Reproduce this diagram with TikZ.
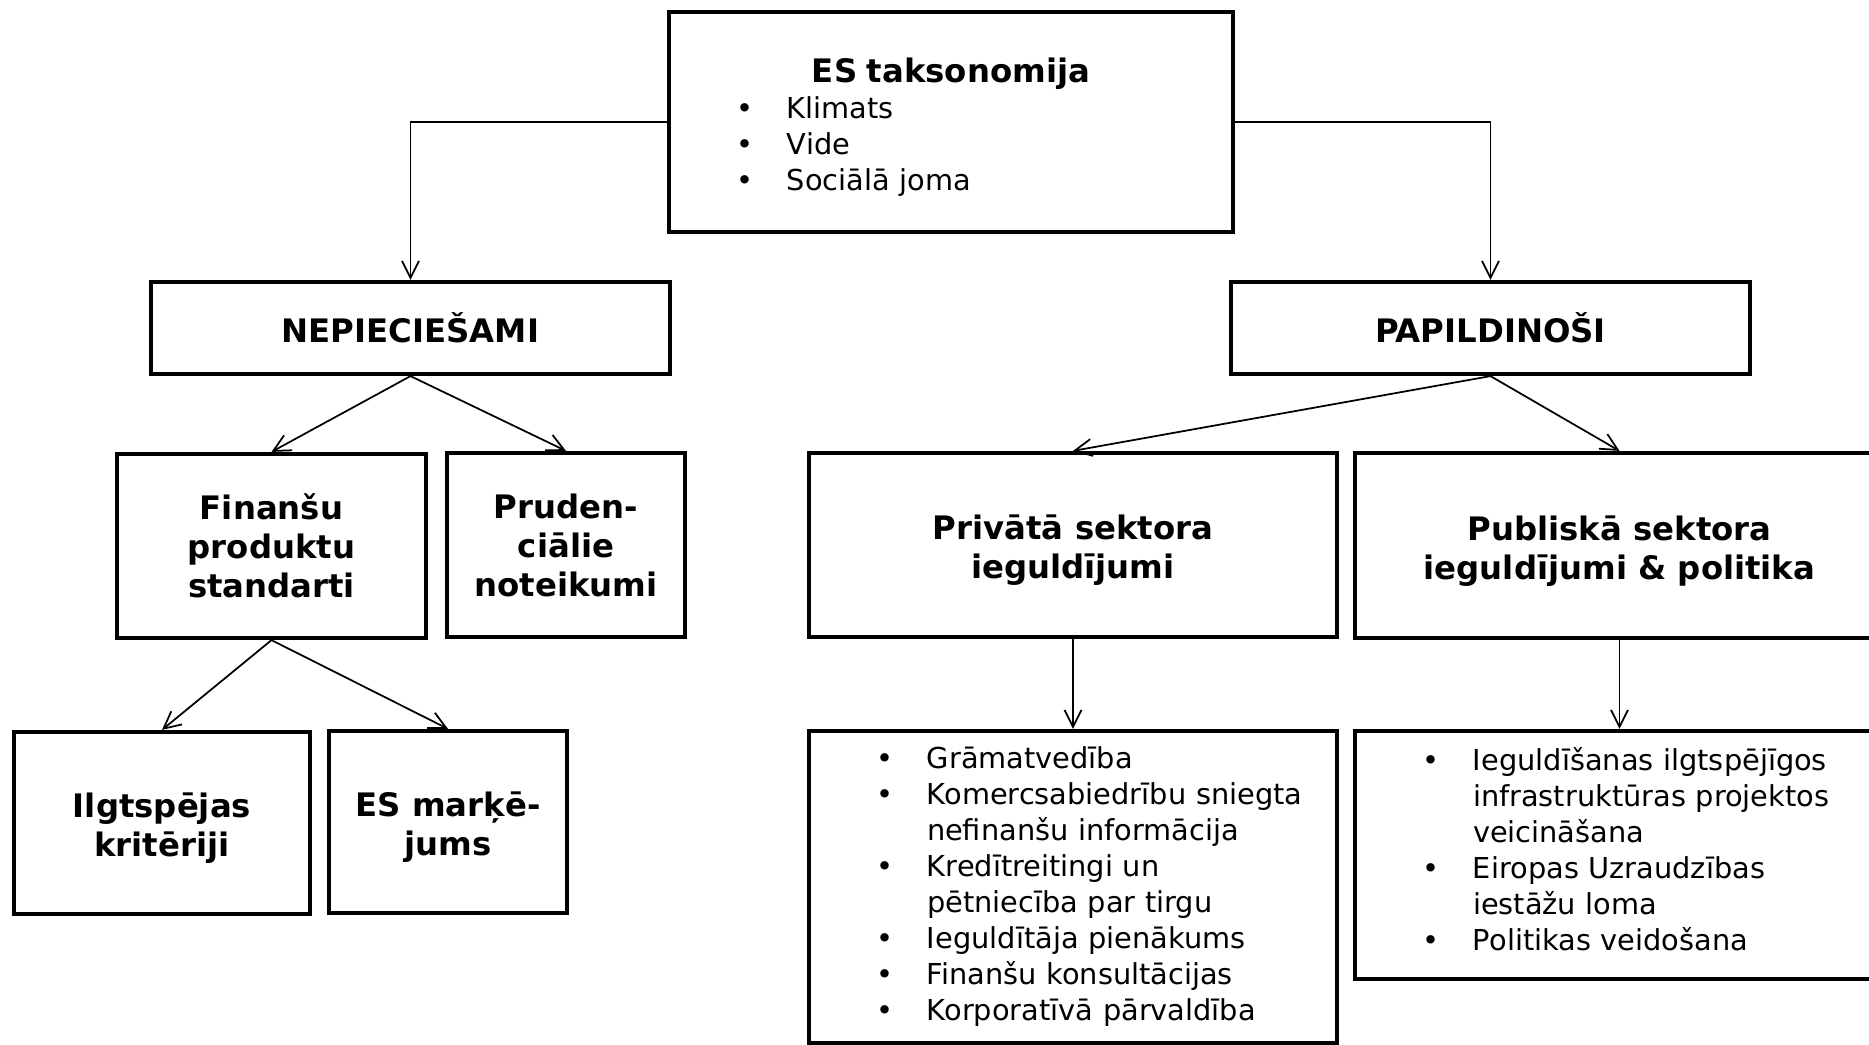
\documentclass[tikz,border=0pt]{standalone}
\usepackage{fontspec}
\setmainfont{DejaVu Sans}
\usepackage{tikz}
\usetikzlibrary{arrows.meta,positioning}
\newcommand{\headfont}{\fontsize{9.2}{11.1}\selectfont\bfseries}
\newcommand{\listfont}{\fontsize{8.2}{10.24}\selectfont}
\newcommand{\itm}[1]{\hspace*{0.57cm}\makebox[0.51cm][l]{\textbullet}#1}
\newcommand{\cnt}[1]{\hspace*{1.08cm}#1}
\newcommand{\up}{\rule{0pt}{10pt}}

\begin{document}
\begin{tikzpicture}[
    box/.style={draw, line width=1.2pt, rectangle, inner sep=0.1cm, align=center, font=\headfont},
    listbox/.style={box, align=left, font=\listfont},
    link/.style={-{Straight Barb[length=1.7mm,width=1.7mm]}, line width=0.5pt}
]
    \useasboundingbox (0,0) rectangle (18.69,-10.45);

    % Taxonomy at the top
    \node[listbox, minimum width=5.64cm, minimum height=2.2cm, text width=5.44cm] (tax) at (9.51,-1.22)
        {\hfill\rule{0pt}{9.9pt}{\headfont ES taksonomija}\hfill\null\\
         \itm{Klimats}\\
         \itm{Vide}\\
         \itm{Sociālā joma}};

    % Two branches
    \node[box, minimum width=5.19cm, minimum height=0.92cm] (need) at (4.105,-3.28) {NEPIECIEŠAMI};
    \node[box, minimum width=5.19cm, minimum height=0.92cm] (extra) at (14.905,-3.28) {PAPILDINOŠI};

    % Required measures
    \node[box, minimum width=3.09cm, minimum height=1.84cm] (prod) at (2.715,-5.46) {Finanšu\\produktu\\standarti};
    \node[box, minimum width=2.38cm, minimum height=1.84cm] (prud) at (5.66,-5.45) {Pruden-\\ciālie\\noteikumi};
    \node[box, minimum width=2.96cm, minimum height=1.82cm] (crit) at (1.62,-8.23) {\up Ilgtspējas\\kritēriji};
    \node[box, minimum width=2.38cm, minimum height=1.82cm] (mark) at (4.48,-8.22) {\up ES marķē-\\jums};

    % Complementary measures
    \node[box, minimum width=5.28cm, minimum height=1.84cm] (priv) at (10.73,-5.45) {\up Privātā sektora\\ieguldījumi};
    \node[box, minimum width=5.29cm, minimum height=1.85cm] (pub) at (16.195,-5.455) {\up Publiskā sektora\\ieguldījumi \& politika};
    \node[listbox, minimum width=5.28cm, minimum height=3.12cm, text width=5.08cm] (privlist) at (10.73,-8.87)
        {\itm{Grāmatvedība}\\
         \itm{Komercsabiedrību sniegta}\\
         \cnt{nefinanšu informācija}\\
         \itm{Kredītreitingi un}\\
         \cnt{pētniecība par tirgu}\\
         \itm{Ieguldītāja pienākums}\\
         \itm{Finanšu konsultācijas}\\
         \itm{Korporatīvā pārvaldība}};
    \node[listbox, minimum width=5.29cm, minimum height=2.48cm, text width=5.09cm] (publist) at (16.195,-8.55)
        {\itm{Ieguldīšanas ilgtspējīgos}\\
         \cnt{infrastruktūras projektos}\\
         \cnt{veicināšana}\\
         \itm{Eiropas Uzraudzības}\\
         \cnt{iestāžu loma}\\
         \itm{Politikas veidošana}\rule[-3.6pt]{0pt}{1pt}};

    % Connectors
    \draw[link] (tax.west) -| (need.north);
    \draw[link] (tax.east) -| (extra.north);
    \draw[link] (need.south) -- (prod.north);
    \draw[link] (need.south) -- (prud.north);
    \draw[link] (prod.south) -- (crit.north);
    \draw[link] (prod.south) -- (mark.north);
    \draw[link] (extra.south) -- (priv.north);
    \draw[link] (extra.south) -- (pub.north);
    \draw[link] (priv.south) -- (privlist.north);
    \draw[link] (pub.south) -- (publist.north);
\end{tikzpicture}
\end{document}
